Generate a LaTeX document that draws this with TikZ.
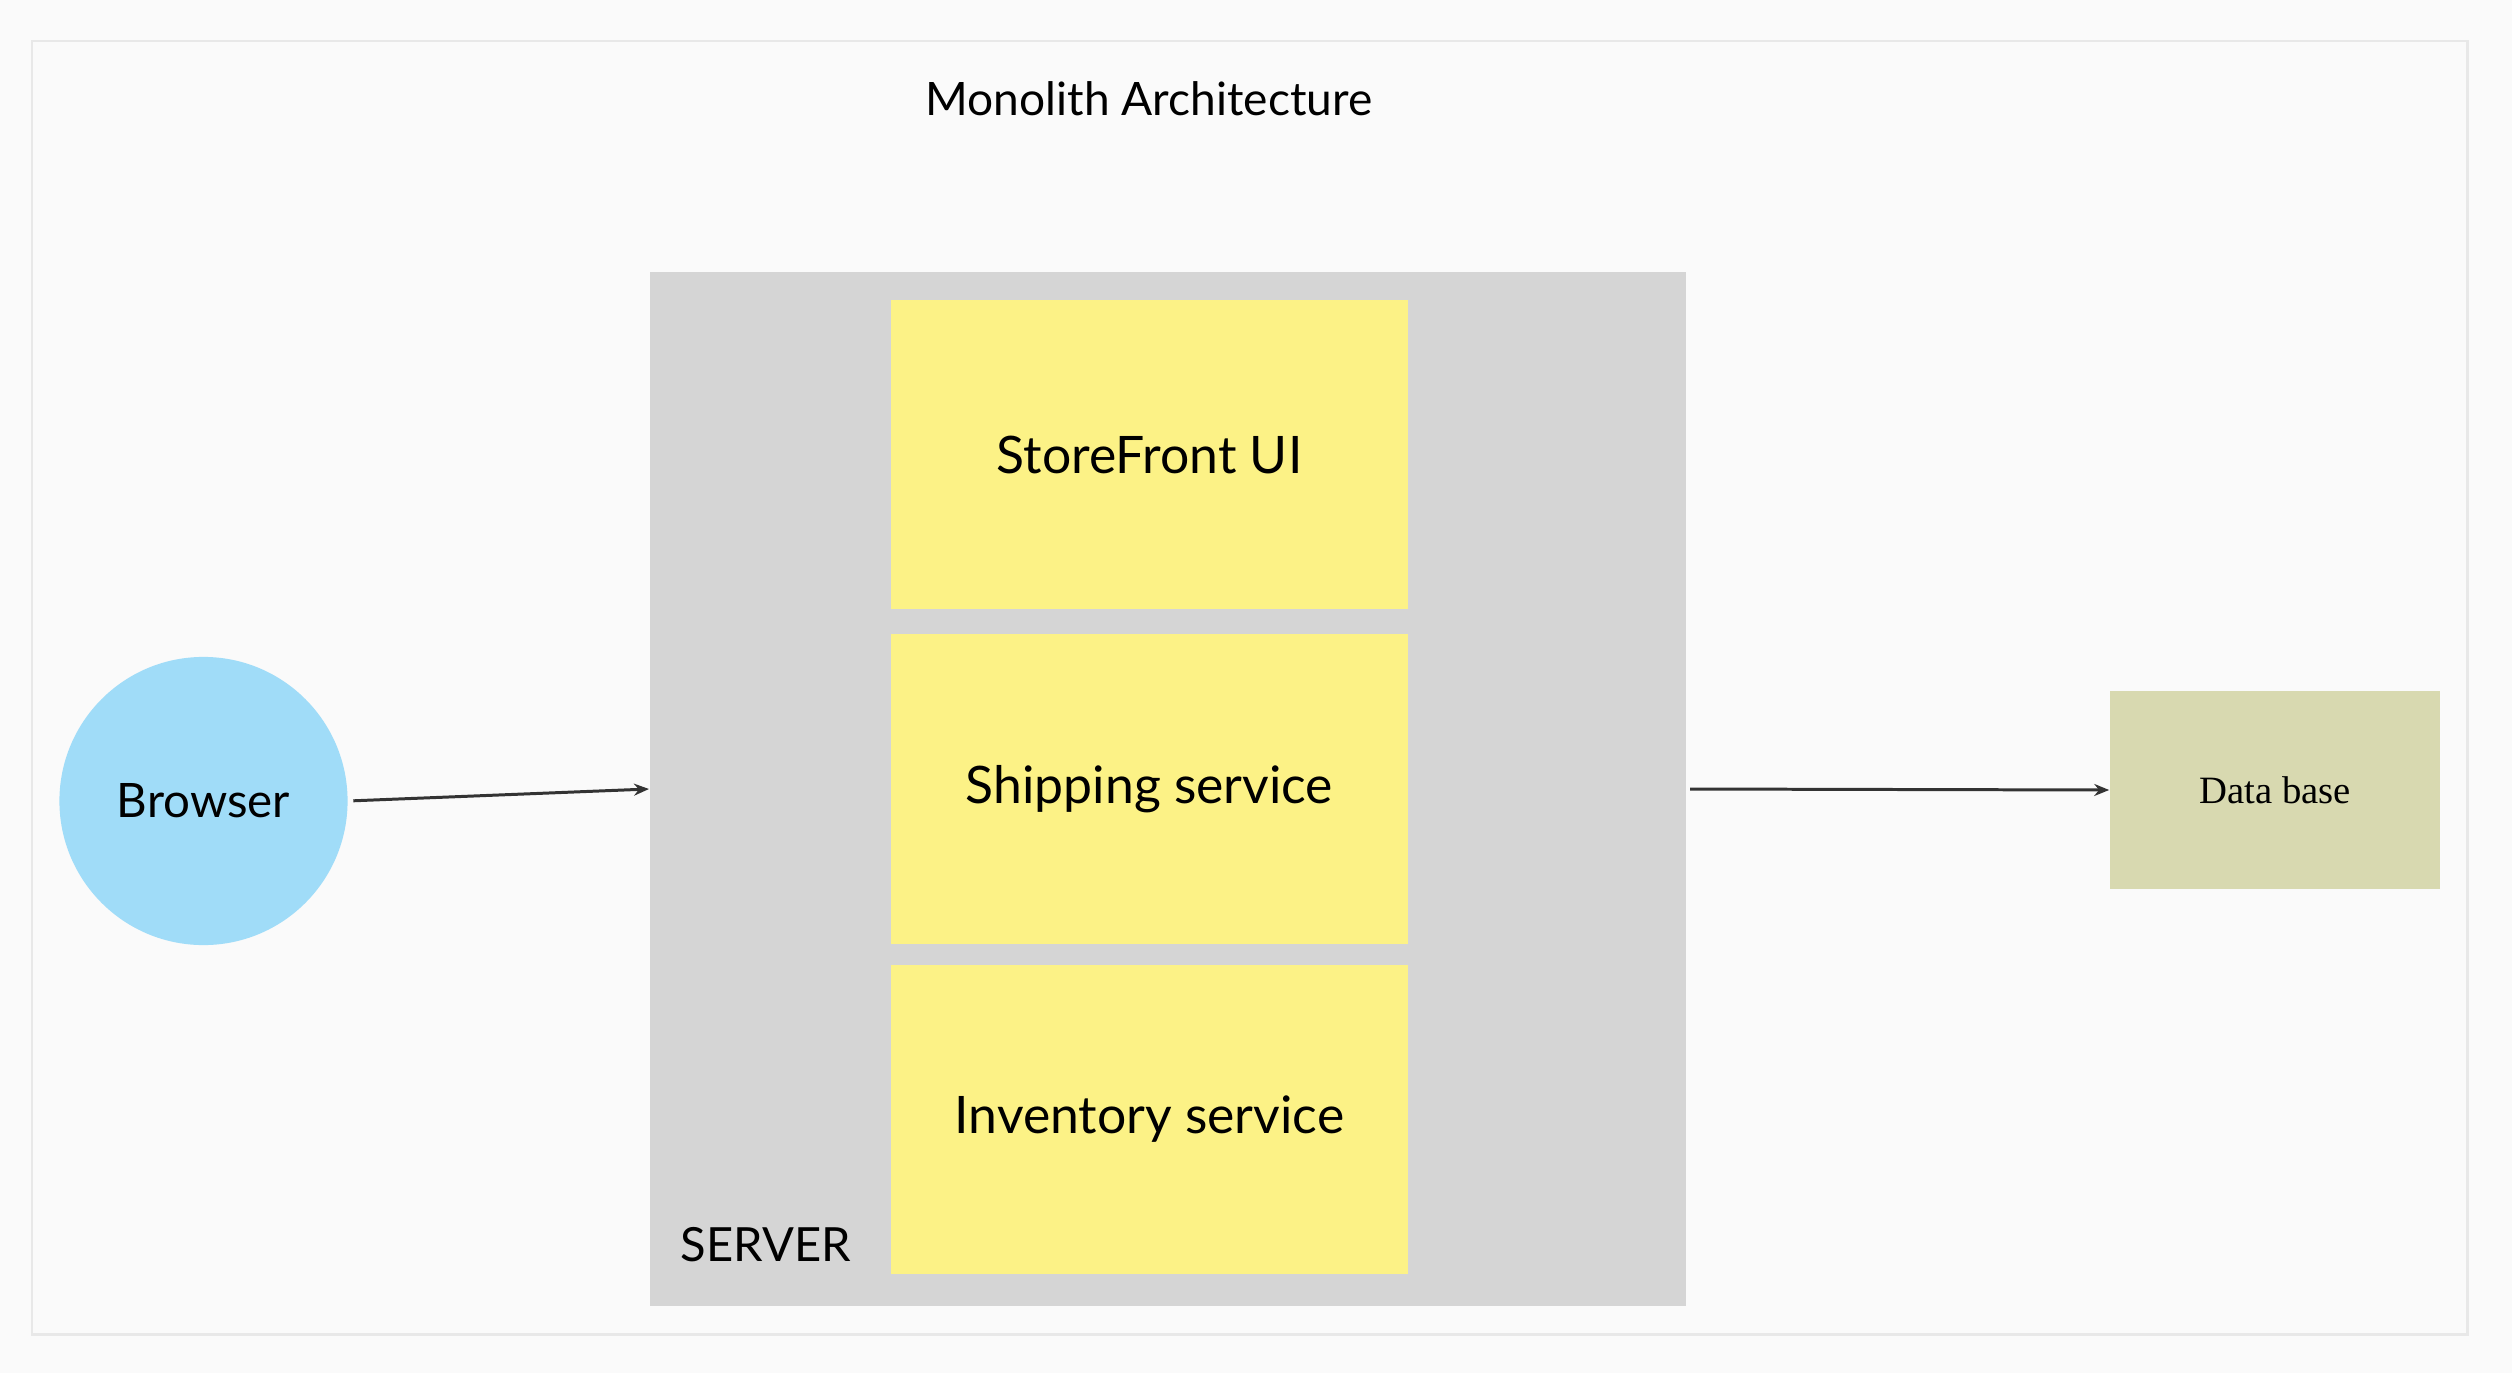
\documentclass[tikz,border=0pt]{standalone}
\usepackage{fontspec}
\setmainfont{Lato}
\newfontfamily\dbfont{Liberation Serif}
\usetikzlibrary{arrows.meta}
\definecolor{bgc}{HTML}{FAFAFA}
\definecolor{framec}{HTML}{E8E8E8}
\definecolor{serverc}{HTML}{D5D5D5}
\definecolor{yellowc}{HTML}{FCF286}
\definecolor{bluec}{HTML}{A0DCF8}
\definecolor{dbc}{HTML}{D8D9B0}
\definecolor{arrowc}{HTML}{333333}
\tikzset{
  module/.style={fill=yellowc, draw=none, minimum width=5.17cm, minimum height=3.09cm, inner sep=0pt, font=\fontsize{14.7}{17}\selectfont},
  conn/.style={draw=arrowc, line width=0.85pt, -{Stealth[length=0.15cm, width=0.12cm]}}
}
\begin{document}
\begin{tikzpicture}[x=0.01cm, y=-0.01cm]
\fill[bgc] (0,0) rectangle (2512,1373);
\useasboundingbox (0,0) rectangle (2512,1373);
\draw[framec, line width=0.85pt] (32,41) rectangle (2467,1334);
\node[font=\fontsize{13.1}{15}\selectfont] (title) at (1149,99) {Monolith Architecture};
\node[fill=serverc, draw=none, minimum width=10.36cm, minimum height=10.34cm, inner sep=0pt] (server) at (1168,789) {};
\node[module] (ui) at (1149.5,454.5) {StoreFront UI};
\node[module] (ship) at (1149.5,789) {Shipping service};
\node[module] (inv) at (1149.5,1119.5) {Inventory service};
\node[font=\fontsize{13.4}{15}\selectfont, anchor=west, inner sep=0pt] (srvlabel) at (680,1245) {SERVER};
\node[circle, fill=bluec, minimum size=2.88cm, inner sep=0pt, font=\fontsize{13.5}{16}\selectfont] (browser) at (203.5,801) {Browser};
\node[fill=dbc, minimum width=3.30cm, minimum height=1.98cm, inner sep=0pt, font=\dbfont\fontsize{11}{13}\selectfont] (db) at (2275,790) {Data base};
\draw[conn, shorten <=0.05cm] (browser.east) -- (server.west);
\draw[conn, shorten <=0.03cm] (server.east) -- (db.west);
\end{tikzpicture}
\end{document}
